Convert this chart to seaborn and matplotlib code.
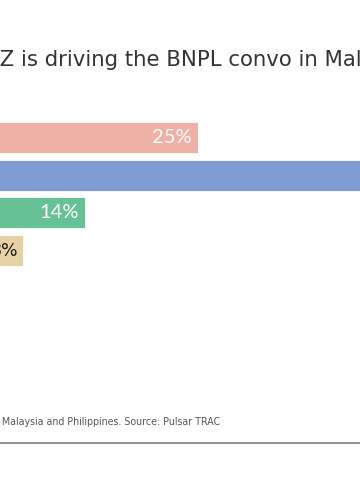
import matplotlib
matplotlib.use("Agg")
import matplotlib.pyplot as plt
import seaborn as sns
import pandas as pd

# data
categories = ["Gen Z", "Millennials", "Gen X", "Boomers"]
values = [25, 52, 14, 8]
labels = ["25%", "52%", "14%", "8%"]
colors = ["#EDB1A5", "#7F9DD4", "#66C195", "#E6D1A6"]
label_colors = ["white", "white", "white", "#1a1a1a"]
title = "Gen Z is driving the BNPL convo in Malaysia and the Philippines"
footnote = "Malaysia and Philippines. Source: Pulsar TRAC"

sns.set_theme(style="white")
plt.rcParams['font.family'] = ['DejaVu Sans']

W, H = 360, 500
fig = plt.figure(figsize=(W / 100, H / 100), dpi=100)
renderer = fig.canvas.get_renderer()


def text_width(s, size, family="DejaVu Sans", weight="normal"):
    t = fig.text(0, 0, s, fontsize=size, family=family, weight=weight)
    w = t.get_window_extent(renderer).width
    t.remove()
    return w


# axes geometry in pixels (chart is cropped on the left/right)
px_per_unit = 10.27
zero_px = -58.8
xmax = 60
pitch = 37.67
top_px = 137.5 - 0.5 * pitch
ax = fig.add_axes([zero_px / W, (H - top_px - 4 * pitch) / H,
                   xmax * px_per_unit / W, 4 * pitch / H])

df = pd.DataFrame({"cat": categories, "val": values})
sns.barplot(data=df, x="val", y="cat", hue="cat", palette=colors,
            saturation=1, legend=False, orient="h", width=0.82, ax=ax,
            edgecolor="white", linewidth=0.6)
ax.set_xlim(0, xmax)
ax.set_ylim(3.5, -0.5)
ax.axis("off")

for i, (v, lab, c) in enumerate(zip(values, labels, label_colors)):
    if c == "white":
        ax.annotate(lab, xy=(v, i), xytext=(-6, 0), textcoords="offset pixels",
                    ha="right", va="center", color=c, fontsize=14.5,
                    family=["Lato", "DejaVu Sans"], fontweight="normal")
    else:
        ax.annotate(lab, xy=(v, i), xytext=(-5, 0), textcoords="offset pixels",
                    ha="right", va="center", color=c, fontsize=12.5,
                    family=["DejaVu Sans"], fontweight="normal")

# title: scale so the visible part matches, and crop the "Gen " prefix
tsize = 13.0
tsize *= 356 / text_width("Z is driving the BNPL convo in Ma", tsize)
shift = text_width("Gen Z", tsize) - text_width("Z", tsize)
fig.text((-shift - 0.5) / W, (H - 66) / H, title, fontsize=tsize,
         color="#333333", ha="left", va="baseline")

fsize = 7.0
fsize *= 221 / text_width(footnote, fsize)
fig.text(2 / W, (H - 425) / H, footnote, fontsize=fsize, color="#555555",
         ha="left", va="baseline")

fig.add_artist(plt.Line2D([0, 1], [(H - 443) / H] * 2, color="#8a8a8a",
                          linewidth=1.3, transform=fig.transFigure))

fig.savefig("out.png", dpi=100)
